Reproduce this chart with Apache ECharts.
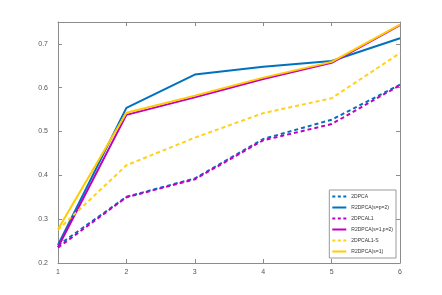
<!DOCTYPE html>
<html><head><meta charset="utf-8">
<script src="https://cdn.jsdelivr.net/npm/echarts@6/dist/echarts.min.js"></script>
<style>html,body{margin:0;padding:0;background:#fff}#c{width:442px;height:295px}</style>
</head><body><div id="c"></div>
<script>
var categories = [1, 2, 3, 4, 5, 6];
var names = ['2DPCA', 'R2DPCA(s=p=2)', '2DPCAL1', 'R2DPCA(s=1,p=2)', '2DPCAL1-S', 'R2DPCA(s=1)'];
var s2DPCA      = [0.240, 0.351, 0.393, 0.483, 0.527, 0.607];
var sR2DPCAsp2  = [0.241, 0.554, 0.630, 0.648, 0.661, 0.713];
var s2DPCAL1    = [0.235, 0.350, 0.391, 0.480, 0.517, 0.606];
var sR2DPCAs1p2 = [0.236, 0.538, 0.578, 0.620, 0.657, 0.743];
var s2DPCAL1S   = [0.276, 0.423, 0.486, 0.542, 0.576, 0.679];
var sR2DPCAs1   = [0.277, 0.543, 0.582, 0.623, 0.659, 0.744];
var yTicks = [0.2, 0.3, 0.4, 0.5, 0.6, 0.7];

var colors = ['#0072BD', '#0072BD', '#C000C0', '#C000C0', '#FFD11A', '#FFCC00'];
var types = ['dashed', 'solid', 'dashed', 'solid', 'dashed', 'solid'];
var datas = [s2DPCA, sR2DPCAsp2, s2DPCAL1, sR2DPCAs1p2, s2DPCAL1S, sR2DPCAs1];

var axisCol = '#8c8c8c';
var fam = 'Liberation Sans Narrow, Arial Narrow, Liberation Sans, sans-serif';
var lab = {color: '#555', fontSize: 7, fontFamily: fam};
var solidIcon = 'path://M0,0H14V2H0Z';
var dashIcon = 'path://M0,0H3V2H0Z M5.5,0H8.5V2H5.5Z M11,0H14V2H11Z';

var series = datas.map(function (d, i) {
  return {
    name: names[i], type: 'line', symbol: 'none', animation: false,
    data: categories.map(function (c, j) { return [c, d[j]]; }),
    lineStyle: {color: colors[i], width: 2, type: types[i] === 'dashed' ? [4, 3] : 'solid'},
    itemStyle: {color: colors[i]}
  };
});

var chart = echarts.init(document.getElementById('c'), null, {renderer: 'canvas'});
chart.setOption({
  animation: false,
  grid: {left: 58, right: 42, top: 22, bottom: 32, containLabel: false},
  legend: {
    right: 46, bottom: 37, orient: 'vertical', backgroundColor: '#fff',
    borderColor: '#999', borderWidth: 1, padding: [3, 3, 3, 3], itemGap: 4,
    itemWidth: 14, itemHeight: 2,
    textStyle: {fontSize: 5, color: '#333', fontFamily: fam, lineHeight: 7},
    data: names.map(function (n, i) {
      return {name: n, icon: types[i] === 'dashed' ? dashIcon : solidIcon,
              itemStyle: {color: colors[i]}};
    })
  },
  xAxis: [{
    type: 'value', min: 1, max: 6, interval: 1, position: 'bottom',
    axisLine: {lineStyle: {color: axisCol}}, splitLine: {show: false},
    axisTick: {inside: true, length: 4, lineStyle: {color: axisCol}},
    axisLabel: Object.assign({margin: 6}, lab)
  }, {
    type: 'value', min: 1, max: 6, interval: 1, position: 'top',
    axisLine: {lineStyle: {color: axisCol}}, splitLine: {show: false},
    axisTick: {inside: true, length: 4, lineStyle: {color: axisCol}},
    axisLabel: {show: false}
  }],
  yAxis: [{
    type: 'value', min: 0.2, max: 0.75, interval: 0.1,
    axisLine: {show: true, lineStyle: {color: axisCol}}, splitLine: {show: false},
    axisTick: {show: true, inside: true, length: 4, lineStyle: {color: axisCol}},
    axisLabel: Object.assign({margin: 10, showMaxLabel: false, formatter: function (v) { return v.toFixed(1); }}, lab)
  }, {
    type: 'value', min: 0.2, max: 0.75, interval: 0.1, position: 'right',
    axisLine: {show: true, lineStyle: {color: axisCol}}, splitLine: {show: false},
    axisTick: {show: true, inside: true, length: 4, lineStyle: {color: axisCol}},
    axisLabel: {show: false}
  }],
  series: series
});
</script></body></html>
